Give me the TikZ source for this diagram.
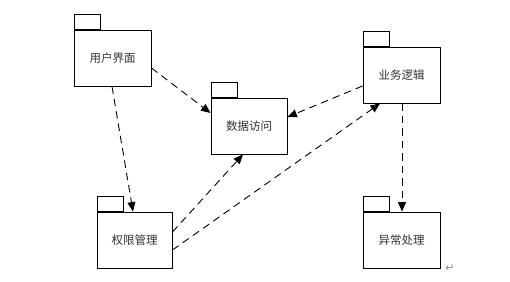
\documentclass[tikz,border=0pt]{standalone}
\usepackage{fontspec}
\newfontfamily\cjk{Noto Sans CJK SC}
\newfontfamily\dejavu{DejaVu Sans}
\usetikzlibrary{arrows.meta}
\begin{document}
\begin{tikzpicture}[x=1pt,y=-1pt,
  pkg/.style={draw=black,line width=0.9pt,fill=white,minimum height=56pt,inner sep=0pt,font=\cjk\fontsize{11.5}{13}\selectfont,text=black!80},
  pkgtab/.style={draw=black,line width=0.9pt,fill=white,minimum width=26pt,minimum height=15pt,inner sep=0pt,anchor=south west},
  dep/.style={line width=0.9pt,dash pattern=on 7.5pt off 5pt,-{Triangle[length=9.5pt,width=8pt]}}]
\useasboundingbox[fill=white] (0,0) rectangle (510,281);
\node[pkg,minimum width=77pt] (ui) at (112.5,58) {用户界面};
\node[pkgtab] (uit) at (ui.north west) {};
\node[pkg,minimum width=76pt] (da) at (249,126) {数据访问};
\node[pkgtab] (dat) at (da.north west) {};
\node[pkg,minimum width=77pt] (bl) at (401.5,75) {业务逻辑};
\node[pkgtab] (blt) at (bl.north west) {};
\node[pkg,minimum width=75pt] (qx) at (134.5,240) {权限管理};
\node[pkgtab] (qxt) at (qx.north west) {};
\node[pkg,minimum width=77pt] (yc) at (401.5,240) {异常处理};
\node[pkgtab] (yct) at (yc.north west) {};
\node[font=\dejavu\fontsize{11}{12}\selectfont,text=black!45,inner sep=0pt] (ret) at (450,268) {↵};
\draw[dep] ([yshift=-10pt]ui.east) -- ([yshift=13pt]da.west);
\draw[dep] ([xshift=-0.5pt]ui.south) -- ([xshift=-1.5pt]qx.north);
\draw[dep] ([yshift=-11pt]bl.west) -- ([yshift=9pt]da.east);
\draw[dep] ([yshift=8pt]qx.east) -- ([xshift=-6pt]da.south);
\draw[dep] ([yshift=-10pt]qx.east) -- ([xshift=-21.5pt]bl.south);
\draw[dep] ([xshift=0.5pt]bl.south) -- ([xshift=0.5pt]yc.north);
\end{tikzpicture}
\end{document}
